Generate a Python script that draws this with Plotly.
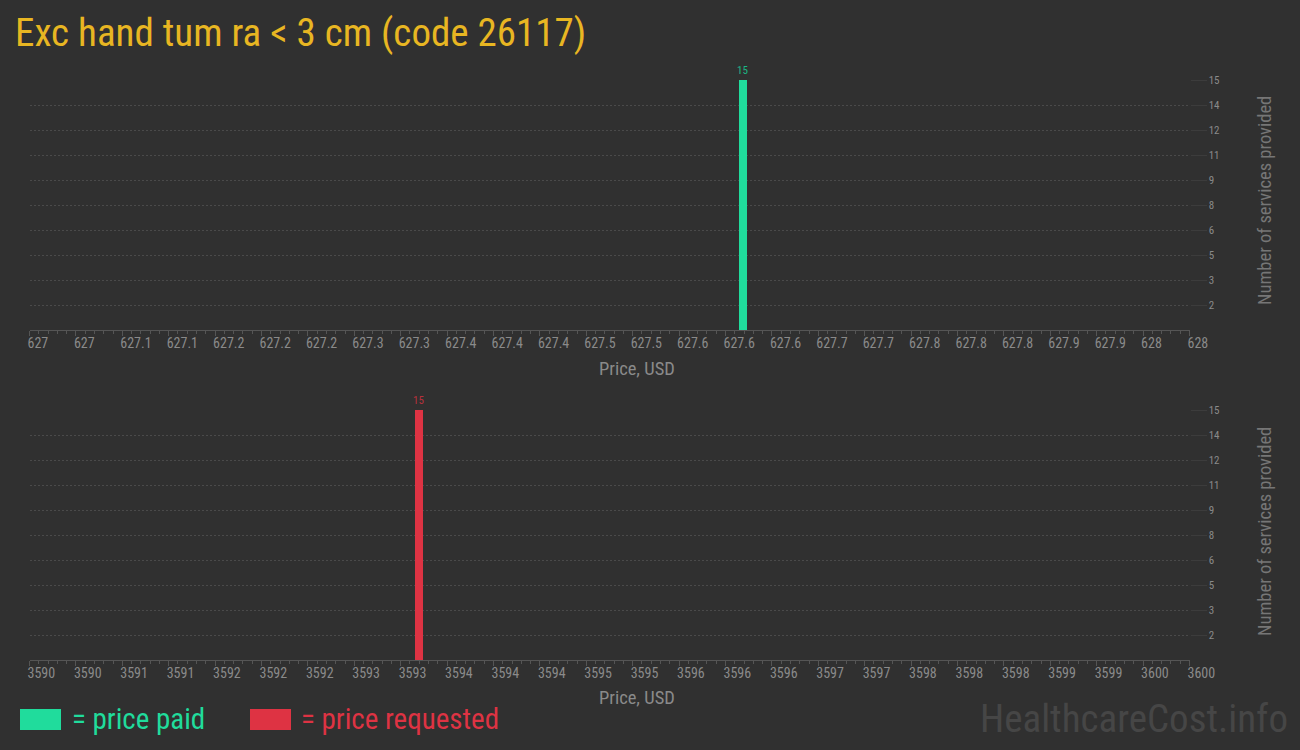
import plotly.graph_objects as go

# ---------------- data ----------------
paid_prices = [627.615]
paid_counts = [15]
requested_prices = [3593.35]
requested_counts = [15]

top_tick_vals = [627 + 0.04 * i for i in range(26)]
top_tick_labels = ["627", "627", "627.1", "627.1", "627.2", "627.2", "627.2", "627.3", "627.3",
                   "627.4", "627.4", "627.4", "627.5", "627.5", "627.6", "627.6", "627.6",
                   "627.7", "627.7", "627.8", "627.8", "627.8", "627.9", "627.9", "628", "628"]
bottom_tick_vals = [3590 + 0.4 * i for i in range(26)]
bottom_tick_labels = ["3590", "3590", "3591", "3591", "3592", "3592", "3592", "3593", "3593",
                      "3594", "3594", "3594", "3595", "3595", "3596", "3596", "3596",
                      "3597", "3597", "3598", "3598", "3598", "3599", "3599", "3600", "3600"]
y_tick_vals = [1.5, 3, 4.5, 6, 7.5, 9, 10.5, 12, 13.5, 15]
y_tick_labels = ["2", "3", "5", "6", "8", "9", "11", "12", "14", "15"]

title_text = "Exc hand tum ra < 3 cm (code 26117)"
x_title = "Price, USD"
y_title = "Number of services provided"

# ---------------- style ----------------
BG = "#303030"
GREEN = "#20dc9c"
RED = "#de3343"
GOLD = "#e8b622"
TICK_C = "#8a8a8a"
GRID_C = "#4a4a4a"
AXIS_C = "#555555"
FONT = "Roboto Condensed, Liberation Sans Narrow, DejaVu Sans Condensed, sans-serif"

W, H = 1300, 750
x0, x1 = 29.5 / W, 1189.5 / W

fig = go.Figure()
fig.add_trace(go.Bar(
    x=paid_prices, y=paid_counts, xaxis="x", yaxis="y",
    marker=dict(color=GREEN, line=dict(width=0)), width=0.0069,
    text=[str(v) for v in paid_counts], textposition="outside", constraintext="none",
    textfont=dict(size=11, color="#1bb585", family=FONT), cliponaxis=False,
    showlegend=False, hoverinfo="x+y"))
fig.add_trace(go.Bar(
    x=requested_prices, y=requested_counts, xaxis="x2", yaxis="y2",
    marker=dict(color=RED, line=dict(width=0)), width=0.069,
    text=[str(v) for v in requested_counts], textposition="outside", constraintext="none",
    textfont=dict(size=11, color="#b8303c", family=FONT), cliponaxis=False,
    showlegend=False, hoverinfo="x+y"))


def xaxis(domain, rng, vals, labels, minor_dtick, anchor):
    return dict(domain=domain, range=rng, anchor=anchor, showgrid=False, zeroline=False,
                automargin=False,
                showline=True, linecolor=AXIS_C, linewidth=1,
                ticks="outside", ticklen=5, tickcolor=AXIS_C,
                tickvals=vals, ticktext=labels,
                ticklabelposition="outside right", ticklabelshift=-3,
                tickfont=dict(size=14, color=TICK_C, family=FONT),
                minor=dict(dtick=minor_dtick, tick0=rng[0], ticks="outside", ticklen=3,
                           tickcolor=AXIS_C, showgrid=False),
                fixedrange=True)


def yaxis(domain, anchor):
    return dict(domain=domain, range=[0, 15], anchor=anchor, side="right",
                automargin=False,
                showgrid=True, gridcolor=GRID_C, griddash="2px,2px", gridwidth=1,
                zeroline=False, showline=False,
                ticks="outside", ticklen=16, tickcolor="#3c3c3c",
                tickvals=y_tick_vals, ticktext=y_tick_labels,
                tickfont=dict(size=11, color=TICK_C, family=FONT),
                fixedrange=True)


fig.update_layout(
    template="none",
    width=W, height=H, margin=dict(l=0, r=0, t=0, b=0, pad=0, autoexpand=False),
    paper_bgcolor=BG, plot_bgcolor=BG, bargap=0,
    font=dict(family=FONT, color=TICK_C),
    xaxis=xaxis([x0, x1], [627, 628], top_tick_vals, top_tick_labels, 0.008, "y"),
    yaxis=yaxis([1 - 330 / H, 1 - 80 / H], "x"),
    xaxis2=xaxis([x0, x1], [3590, 3600], bottom_tick_vals, bottom_tick_labels, 0.08, "y2"),
    yaxis2=yaxis([1 - 660 / H, 1 - 410 / H], "x2"),
    hovermode="closest",
)

ann = []
# title
ann.append(dict(text=title_text, x=13 / W, y=1 - 33 / H, xref="paper", yref="paper",
                xanchor="left", yanchor="middle", showarrow=False,
                font=dict(size=39, color=GOLD, family=FONT)))
# x-axis titles
for yc in (369, 698):
    ann.append(dict(text=x_title, x=637 / W, y=1 - yc / H, xref="paper", yref="paper",
                    xanchor="center", yanchor="middle", showarrow=False,
                    font=dict(size=18.5, color=TICK_C, family=FONT)))
# y-axis titles
for yc in (201, 532):
    ann.append(dict(text=y_title, x=1265 / W, y=1 - yc / H, xref="paper", yref="paper",
                    xanchor="center", yanchor="middle", showarrow=False, textangle=-90,
                    font=dict(size=18.5, color="#767676", family=FONT)))
# legend
ann.append(dict(text="= price paid", x=70 / W, y=1 - 719 / H, xref="paper", yref="paper",
                xanchor="left", yanchor="middle", showarrow=False,
                font=dict(size=29, color=GREEN, family=FONT)))
ann.append(dict(text="= price requested", x=299 / W, y=1 - 719 / H, xref="paper", yref="paper",
                xanchor="left", yanchor="middle", showarrow=False,
                font=dict(size=29, color=RED, family=FONT)))
# watermark
ann.append(dict(text="HealthcareCost.info", x=1290 / W, y=1 - 719 / H, xref="paper", yref="paper",
                xanchor="right", yanchor="middle", showarrow=False,
                font=dict(size=39, color="#464646", family=FONT)))
fig.update_layout(annotations=ann)

fig.update_layout(shapes=[
    dict(type="rect", xref="paper", yref="paper", x0=20 / W, x1=61 / W,
         y0=1 - 730 / H, y1=1 - 709 / H, fillcolor=GREEN, line=dict(width=0)),
    dict(type="rect", xref="paper", yref="paper", x0=250 / W, x1=291 / W,
         y0=1 - 730 / H, y1=1 - 709 / H, fillcolor=RED, line=dict(width=0)),
])

fig.write_html("out.html", config={"displayModeBar": False},
               post_script="document.body.style.margin='0';document.body.style.overflow='hidden';")
